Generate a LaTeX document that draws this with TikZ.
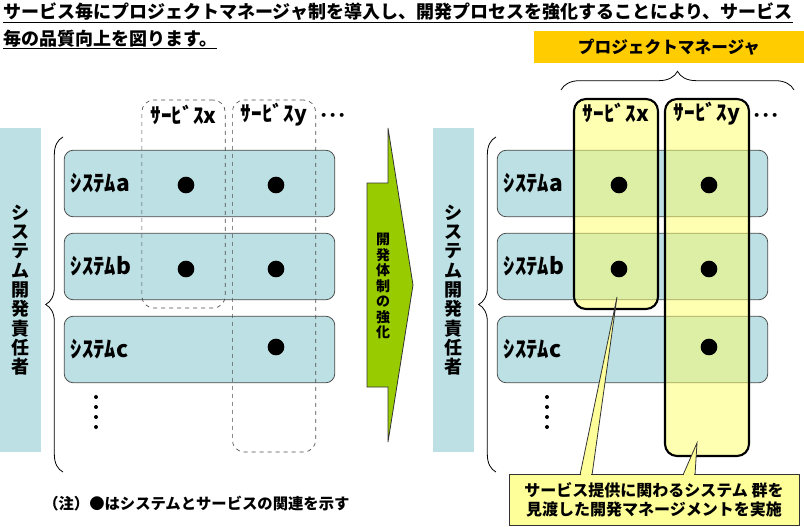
\documentclass[tikz,border=0pt]{standalone}
\usepackage{fontspec}
\setmainfont{Noto Sans CJK JP}
\usetikzlibrary{decorations.pathreplacing}

% --- Цвета ---
\definecolor{sysblue}{HTML}{BCE0E3}
\definecolor{arrowgreen}{HTML}{99CC00}
\definecolor{pmorange}{HTML}{FFCC00}
\definecolor{svcyellow}{HTML}{FFFF66}
\definecolor{noteyellow}{HTML}{FFFF99}

\tikzset{
  rowbox/.style={draw=black!70, fill=sysblue, rounded corners=7pt, line width=0.6pt,
    minimum width=203pt, minimum height=50pt, inner sep=0pt},
  svcdash/.style={draw=black!70, dashed, rounded corners=9pt, line width=0.5pt,
    minimum width=62.5pt, inner sep=0pt},
  svcbox/.style={draw=black, fill=svcyellow, fill opacity=0.5, rounded corners=9pt,
    line width=1.6pt, minimum width=63pt, inner sep=0pt},
  rolebar/.style={fill=sysblue, minimum width=30.75pt, minimum height=243pt, inner sep=0pt,
    align=center, font=\fontsize{13.5pt}{14.5pt}\selectfont\bfseries},
  dotmark/.style={circle, fill=black, minimum size=12.5pt, inner sep=0pt},
  smalldot/.style={circle, fill=black, minimum size=3pt, inner sep=0pt},
  hwlabel/.style={font=\fontsize{17pt}{19pt}\selectfont\bfseries, inner sep=0pt},
  svclabel/.style={font=\fontsize{16pt}{18pt}\selectfont\bfseries, inner sep=0pt},
  cbrace/.style={decorate, decoration={brace, amplitude=13pt}, line width=0.6pt},
}

\begin{document}
\begin{tikzpicture}[x=0.75pt, y=-0.75pt]
\useasboundingbox (0,0) rectangle (804,526);

% --- Заголовок ---
\node[anchor=base west, inner sep=0pt, font=\fontsize{13.5pt}{16pt}\selectfont\bfseries] (title1) at (3,18)
  {\underline{サービス毎にプロジェクトマネージャ制を導入し、開発プロセスを強化することにより、サービス}};
\node[anchor=base west, inner sep=0pt, font=\fontsize{13.5pt}{16pt}\selectfont\bfseries] (title2) at (3,45)
  {\underline{毎の品質向上を図ります。}};

% --- Две панели: полоса, скобка, строки систем ---
\foreach \p/\xo/\vx in {L/0/96, R/433/547} {
  \node[rolebar] (bar\p) at (20.5+\xo,290) {シ\\ス\\テ\\ム\\開\\発\\責\\任\\者};
  \draw[cbrace] (63+\xo,472) -- (63+\xo,137);
  \foreach \r/\yc in {a/183.5, b/266.5, c/349.5} {
    \node[rowbox] (row\p\r) at (199.5+\xo,\yc) {};
    \node[hwlabel, anchor=west] (lab\p\r) at ([xshift=5pt]row\p\r.west) {ｼｽﾃﾑ\r};
  }
  % вертикальное многоточие
  \foreach \k in {0,...,3}
    \node[smalldot] (vd\p\k) at (\vx,397+10*\k) {};
}

% --- Сервисы: слева пунктир, справа жёлтые ---
\node[svcdash, minimum height=156pt] (svcLx) at (183.5,204) {};
\node[svcdash, minimum height=264pt] (svcLy) at (274,276) {};
\node[svcbox, minimum height=157.5pt] (svcRx) at (616,204) {};
\node[svcbox, minimum height=267.75pt] (svcRy) at (707,277.5) {};

\foreach \p/\s in {L/x, L/y, R/x, R/y}
  \node[svclabel] (svclab\p\s) at ([yshift=-11.5pt]svc\p\s.north) {ｻｰﾋﾞｽ\s};

\foreach \p/\xo in {L/0, R/433}
  \node[svclabel, font=\fontsize{14pt}{16pt}\selectfont\bfseries] (more\p) at (333+\xo,118) {･･･};

% --- Точки связей ---
\foreach \p/\xo in {L/0, R/433} {
  \foreach \n/\xd/\yd in {ax/186/185, ay/276/185, bx/186/269, by/276/269, cy/276/347}
    \node[dotmark] (dot\p\n) at (\xd+\xo,\yd) {};
}

% --- Стрелка ---
\filldraw[fill=arrowgreen, draw=black!80, line width=0.6pt]
  (367,183) -- (388,183) -- (388,128) -- (413,285) -- (388,442) -- (388,387) -- (367,387) -- cycle;
\node[align=center, inner sep=0pt, font=\fontsize{10.5pt}{11.6pt}\selectfont\bfseries] (arrowtext) at (383,286)
  {開\\発\\体\\制\\の\\強\\化};

% --- Проектный менеджер ---
\node[fill=pmorange, minimum width=202.5pt, minimum height=24pt, inner sep=0pt,
  font=\fontsize{12.5pt}{14pt}\selectfont\bfseries] (pmtitle) at (669,47) {プロジェクトマネージャ};
\draw[decorate, decoration={brace, amplitude=14pt}, line width=0.6pt] (561,90) -- (794,90);

% --- Выноска ---
\coordinate (tipX) at (617,297);
\coordinate (tipY) at (697,443);
\coordinate (baseXa) at (580,475);
\coordinate (baseXb) at (592,475);
\coordinate (baseYa) at (683,475);
\coordinate (baseYb) at (695,475);
\fill[noteyellow] (baseXa) -- (tipX) -- (baseXb) -- cycle;
\fill[noteyellow] (baseYa) -- (tipY) -- (baseYb) -- cycle;
\node[fill=noteyellow, draw=black!80, line width=0.6pt, minimum width=217.5pt, minimum height=38pt,
  align=center, inner sep=0pt, font=\fontsize{12pt}{14.5pt}\selectfont\bfseries] (callout) at (654,500)
  {サービス提供に関わるシステム 群を\\見渡した開発マネージメントを実施};
\fill[noteyellow] (581,473) rectangle (591,477);
\fill[noteyellow] (684,473) rectangle (694,477);
\draw[black!80, line width=0.6pt] (baseXa) -- (tipX) -- (baseXb);
\draw[black!80, line width=0.6pt] (baseYa) -- (tipY) -- (baseYb);

% --- Примечание ---
\node[anchor=west, inner sep=0pt, font=\fontsize{11.5pt}{13pt}\selectfont\bfseries] (note) at (43,504)
  {（注）●はシステムとサービスの関連を示す};

\end{tikzpicture}
\end{document}
